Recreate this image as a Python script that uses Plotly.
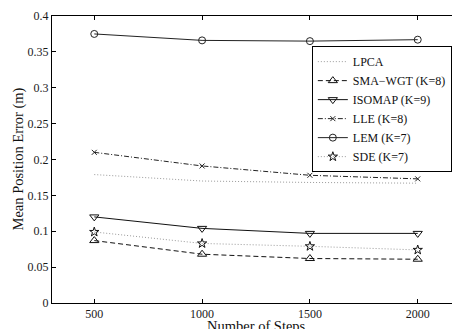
import plotly.graph_objects as go

steps = [500, 1000, 1500, 2000]
lpca = [0.179, 0.170, 0.168, 0.167]
sma_wgt = [0.087, 0.068, 0.062, 0.061]
isomap = [0.120, 0.104, 0.097, 0.097]
lle = [0.210, 0.191, 0.178, 0.173]
lem = [0.375, 0.366, 0.365, 0.367]
sde = [0.099, 0.083, 0.079, 0.074]

y_ticks = [0, 0.05, 0.1, 0.15, 0.2, 0.25, 0.3, 0.35, 0.4]
y_ticklabels = ["0", "0.05", "0.1", "0.15", "0.2", "0.25", "0.3", "0.35", "0.4"]
x_ticks = [500, 1000, 1500, 2000]
x_range = [304, 2196]
y_range = [0, 0.4]

FONT = "Times New Roman, Liberation Serif, serif"

fig = go.Figure()
fig.add_trace(go.Scatter(x=steps, y=lpca, name="LPCA", mode="lines", xaxis="x2",
                         line=dict(color="#9a9a9a", width=1, dash="1px,2px")))
fig.add_trace(go.Scatter(x=steps, y=sma_wgt, name="SMA\u2212WGT (K=8)", mode="lines+markers",
                         line=dict(color="#111", width=1, dash="5px,3px"),
                         marker=dict(symbol="triangle-up-open", size=8, color="#111",
                                     line=dict(width=1, color="#111"))))
fig.add_trace(go.Scatter(x=steps, y=isomap, name="ISOMAP (K=9)", mode="lines+markers",
                         line=dict(color="#111", width=1),
                         marker=dict(symbol="triangle-down-open", size=8, color="#111",
                                     line=dict(width=1, color="#111"))))
fig.add_trace(go.Scatter(x=steps, y=lle, name="LLE (K=8)", mode="lines+markers",
                         line=dict(color="#222", width=1, dash="5px,2px,1px,2px"),
                         marker=dict(symbol="x-thin-open", size=5, color="#222",
                                     line=dict(width=1, color="#222"))))
fig.add_trace(go.Scatter(x=steps, y=lem, name="LEM (K=7)", mode="lines+markers", yaxis="y2",
                         line=dict(color="#222", width=1),
                         marker=dict(symbol="circle-open", size=7, color="#222",
                                     line=dict(width=1, color="#222"))))
fig.add_trace(go.Scatter(x=steps, y=sde, name="SDE (K=7)", mode="lines+markers",
                         line=dict(color="#9a9a9a", width=1, dash="1px,2px"),
                         marker=dict(symbol="star-open", size=7, color="#111",
                                     line=dict(width=1, color="#111"))))

fig.update_layout(
    template="none",
    width=452, height=321, autosize=False,
    margin=dict(l=44, r=0, t=8, b=26, pad=0),
    paper_bgcolor="white", plot_bgcolor="white",
    font=dict(family=FONT, size=12, color="#1a1a1a"),
    showlegend=True,
    legend=dict(x=0.98, y=0.895, xanchor="right", yanchor="top",
                bgcolor="white", bordercolor="black", borderwidth=1,
                font=dict(family=FONT, size=12, color="#111"),
                itemwidth=30, tracegroupgap=0),
    xaxis=dict(range=x_range, tickvals=x_ticks, ticks="", ticklen=0,
               showline=True, linecolor="black", linewidth=1,
               mirror=True, showgrid=False, zeroline=False, automargin=False,
               tickfont=dict(family=FONT, size=12, color="#1a1a1a")),
    xaxis2=dict(range=x_range, tickvals=x_ticks, overlaying="x", anchor="y", side="bottom",
                ticks="inside", ticklen=4, tickcolor="black", showline=False, mirror="ticks",
                showticklabels=False, showgrid=False, zeroline=False, automargin=False),
    yaxis=dict(range=y_range, tickvals=y_ticks, ticktext=y_ticklabels, ticks="",
               ticklen=0, showline=True, linecolor="black",
               linewidth=1, showgrid=False, zeroline=False, automargin=False,
               tickfont=dict(family=FONT, size=12, color="#1a1a1a")),
    yaxis2=dict(range=y_range, tickvals=y_ticks, overlaying="y", side="left", anchor="x",
                ticks="inside", ticklen=4, tickcolor="black", showline=False, mirror="ticks",
                showticklabels=False, showgrid=False, zeroline=False, automargin=False),
    annotations=[
        dict(text="Number of Steps", xref="paper", yref="paper", x=0.5, y=-0.045,
             xanchor="center", yanchor="top", showarrow=False,
             font=dict(family=FONT, size=14.5, color="#111")),
        dict(text="Mean Position Error (m)", xref="paper", yref="paper", x=-0.0833, y=0.5,
             xanchor="center", yanchor="middle", textangle=-90, showarrow=False,
             font=dict(family=FONT, size=14.5, color="#111")),
    ],
)

fig.write_html("out.html")
